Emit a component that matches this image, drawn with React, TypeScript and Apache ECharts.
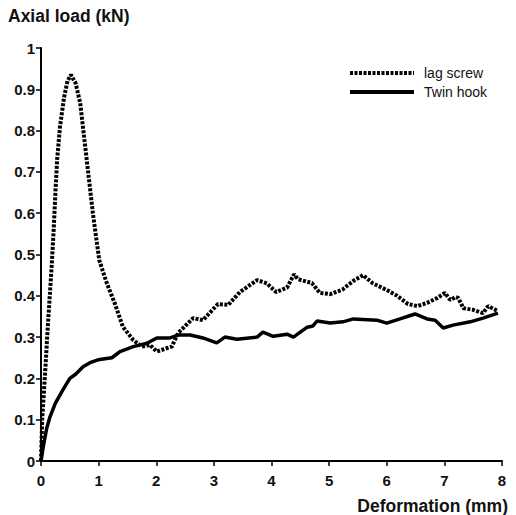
import React, { useEffect, useRef } from "react";
import * as echarts from "echarts";

const lagScrew: [number, number][] = [
  [0, 0], [0.02, 0.1], [0.07, 0.21], [0.12, 0.33], [0.18, 0.46], [0.22, 0.56], [0.25, 0.65],
  [0.28, 0.73], [0.33, 0.81], [0.4, 0.88], [0.46, 0.92], [0.52, 0.935], [0.6, 0.915],
  [0.68, 0.867], [0.76, 0.77], [0.84, 0.673], [0.9, 0.6], [1.01, 0.487], [1.14, 0.431],
  [1.28, 0.382], [1.42, 0.325], [1.6, 0.293], [1.75, 0.277], [1.89, 0.281], [2.01, 0.265],
  [2.18, 0.273], [2.27, 0.277], [2.38, 0.31], [2.64, 0.346], [2.81, 0.341], [3.07, 0.38],
  [3.25, 0.378], [3.45, 0.409], [3.75, 0.438], [3.92, 0.43], [4.08, 0.409], [4.27, 0.42],
  [4.39, 0.452], [4.46, 0.44], [4.7, 0.431], [4.84, 0.407], [5.02, 0.404], [5.23, 0.415],
  [5.42, 0.436], [5.59, 0.45], [5.75, 0.431], [6.0, 0.414], [6.18, 0.4], [6.37, 0.38],
  [6.53, 0.375], [6.7, 0.383], [6.88, 0.395], [7.01, 0.407], [7.1, 0.39], [7.2, 0.397],
  [7.24, 0.395], [7.33, 0.37], [7.5, 0.366], [7.67, 0.358], [7.76, 0.375], [7.93, 0.363],
];

const twinHook: [number, number][] = [
  [0, 0], [0.04, 0.035], [0.1, 0.08], [0.156, 0.107], [0.25, 0.14], [0.38, 0.172], [0.5, 0.2],
  [0.6, 0.21], [0.73, 0.228], [0.85, 0.238], [0.99, 0.245], [1.23, 0.25], [1.37, 0.265],
  [1.6, 0.277], [1.84, 0.285], [2.01, 0.298], [2.24, 0.298], [2.38, 0.305], [2.59, 0.305],
  [2.81, 0.298], [3.05, 0.286], [3.19, 0.3], [3.4, 0.295], [3.75, 0.3], [3.85, 0.312],
  [4.03, 0.302], [4.27, 0.307], [4.38, 0.3], [4.62, 0.324], [4.72, 0.327], [4.79, 0.339],
  [5.02, 0.334], [5.24, 0.337], [5.42, 0.344], [5.83, 0.341], [6.0, 0.334], [6.23, 0.344],
  [6.49, 0.356], [6.7, 0.344], [6.84, 0.341], [6.98, 0.322], [7.15, 0.329], [7.45, 0.337],
  [7.67, 0.346], [7.93, 0.358],
];

const seriesNames = ["lag screw", "Twin hook"];
const xTitle = "Deformation (mm)";
const yTitle = "Axial load (kN)";

const FONT = "'Liberation Sans', Arial, Helvetica, sans-serif";
const LAG_DASH = [3, 1.5];

export default function App() {
  const ref = useRef<HTMLDivElement>(null);
  useEffect(() => {
    if (!ref.current) return;
    const chart = echarts.init(ref.current, undefined, { renderer: "svg" });
    chart.setOption({
      animation: false,
      backgroundColor: "#ffffff",
      grid: { left: 41, right: 14, top: 48, bottom: 54, containLabel: false },
      graphic: [
        {
          type: "text",
          left: 8,
          top: 7,
          style: { text: yTitle, font: `bold 17.5px ${FONT}`, fill: "#111" },
        },
        {
          type: "text",
          right: 8,
          top: 497,
          style: { text: xTitle, font: `bold 17.5px ${FONT}`, fill: "#111" },
        },
      ],
      legend: {
        orient: "vertical",
        left: 343,
        top: 61,
        itemWidth: 64,
        itemHeight: 14,
        itemGap: 5,
        itemStyle: { opacity: 0 },
        data: [
          { name: seriesNames[0], lineStyle: { color: "#000", width: 4, type: LAG_DASH } },
          { name: seriesNames[1], lineStyle: { color: "#000", width: 4, type: "solid" } },
        ],
        textStyle: { fontFamily: FONT, fontSize: 14, color: "#111", padding: [0, 0, 0, 5] },
      },
      xAxis: {
        type: "value",
        min: 0,
        max: 8,
        interval: 1,
        splitLine: { show: false },
        axisLine: { show: true, lineStyle: { color: "#000", width: 2 } },
        axisTick: { show: true, length: 5, lineStyle: { color: "#000", width: 1.5 } },
        axisLabel: { fontFamily: FONT, fontSize: 15, fontWeight: "bold", color: "#111", margin: 12 },
      },
      yAxis: {
        type: "value",
        min: 0,
        max: 1,
        interval: 0.1,
        splitLine: { show: false },
        axisLine: { show: true, lineStyle: { color: "#000", width: 2 } },
        axisTick: { show: true, length: 5, lineStyle: { color: "#000", width: 1.5 } },
        axisLabel: {
          fontFamily: FONT,
          fontSize: 15,
          fontWeight: "bold",
          color: "#111",
          margin: 6,
          formatter: (v: number) => String(Math.round(v * 10) / 10),
        },
      },
      series: [
        {
          name: seriesNames[0],
          type: "line",
          data: lagScrew,
          showSymbol: false,
          symbol: "none",
          lineStyle: { color: "#000", width: 4, type: LAG_DASH },
          itemStyle: { color: "#000" },
        },
        {
          name: seriesNames[1],
          type: "line",
          data: twinHook,
          showSymbol: false,
          symbol: "none",
          lineStyle: { color: "#000", width: 3.5, type: "solid" },
          itemStyle: { color: "#000" },
        },
      ],
    });
    return () => chart.dispose();
  }, []);
  return <div ref={ref} style={{ width: 516, height: 515, position: "absolute", left: 0, top: 0 }} />;
}
